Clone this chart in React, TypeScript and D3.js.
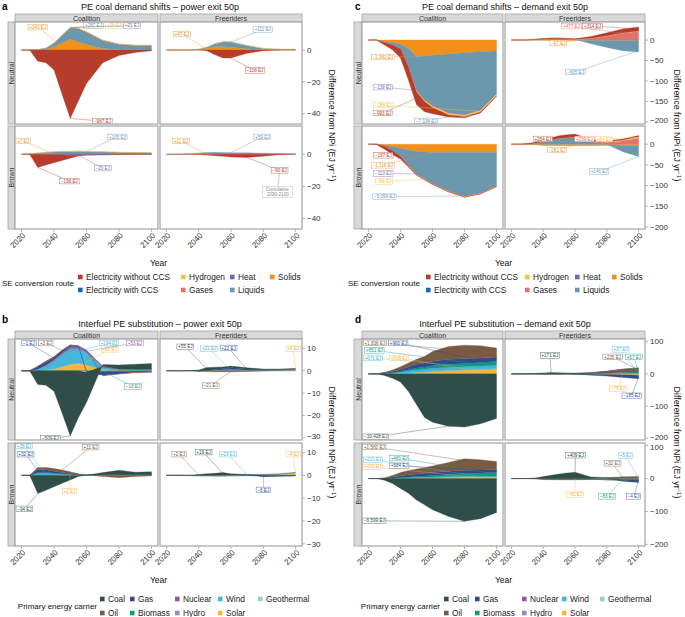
import React from "react";
import * as d3 from "d3";

const FONT = "'Liberation Sans', Arial, Helvetica, sans-serif";

const YEARS = [2020, 2025, 2030, 2035, 2040, 2045, 2050, 2055, 2060, 2070, 2080, 2090, 2100];
const X_TICKS = [2020, 2040, 2060, 2080, 2100];

const SE_KEYS = ["ElecNoCCS", "ElecCCS", "Hydrogen", "Gases", "Heat", "Liquids", "Solids"];
const SE_NAMES = ["Electricity without CCS", "Electricity with CCS", "Hydrogen", "Gases", "Heat", "Liquids", "Solids"];
const SE_COLORS = ["#b63c2c", "#2166ac", "#f6c445", "#e27272", "#7767ad", "#6b98ad", "#f39019"];

const PE_KEYS = ["Coal", "Oil", "Gas", "Biomass", "Nuclear", "Hydro", "Wind", "Solar", "Geothermal"];
const PE_NAMES = ["Coal", "Oil", "Gas", "Biomass", "Nuclear", "Hydro", "Wind", "Solar", "Geothermal"];
const PE_COLORS = ["#2f4e49", "#7b5a43", "#2e4b8e", "#0d9b82", "#8d5b99", "#8b90c6", "#47b6d8", "#f8b53e", "#93d4c1"];

const COLS = ["Coalition", "Freeriders"];
const ROWS = ["Neutral", "Brown"];

// ---------- Panel a: PE coal demand shifts – power exit 50p ----------
const A_NEU_COA: Record<string, number[]> = {
  ElecNoCCS: [0, 0, -7, -8, -12.5, -28, -43, -32, -21, -8, -3.5, -1.5, -0.5],
  Solids: [0, 0, 0, 0.2, 2, 4.5, 6.7, 5, 3.5, 1, 0.3, 0.1, 0],
  Liquids: [0, 0, 0.2, 0.8, 2.2, 4.5, 7, 8.2, 7.5, 4.8, 3.2, 2.7, 2.8],
  Hydrogen: [0, 0, 0, 0, 0.1, 0.2, 0.3, 0.35, 0.35, 0.3, 0.2, 0.15, 0.15],
  Heat: [0, 0, 0, 0.05, 0.1, 0.2, 0.3, 0.3, 0.3, 0.25, 0.15, 0.1, 0.1],
};
const A_NEU_FRE: Record<string, number[]> = {
  ElecNoCCS: [0, 0, 0, 0, 0, -0.5, -3, -5, -5, -2, -0.5, 0, 0],
  Solids: [0, 0, 0, 0, 0.3, 1, 2, 2.2, 1.8, 0.8, 0.2, 0, 0],
  Liquids: [0, 0, 0, 0, 0.2, 0.8, 2, 3, 3.3, 2, 0.8, 0.5, 0.4],
  Hydrogen: [0, 0, 0, 0, 0, 0.05, 0.1, 0.1, 0.1, 0.1, 0.05, 0, 0],
};
const A_BRO_COA: Record<string, number[]> = {
  ElecNoCCS: [0, 0, -8.2, -6.5, -5, -3.4, -1.9, -0.4, 0, 0, 0, 0, 0],
  Solids: [0, 0.3, 0.4, 0.3, 0.2, 0.1, 0, 0, 0, 0, 0, 0, 0],
  Liquids: [0, 0, 0.4, 0.9, 1.3, 1.6, 1.8, 1.9, 1.8, 1.5, 1.2, 1.1, 1.0],
  Heat: [0, 0, 0, -0.1, -0.3, -0.5, -0.6, -0.6, -0.5, -0.3, -0.1, 0, 0],
  Hydrogen: [0, 0, 0, 0.05, 0.1, 0.15, 0.15, 0.15, 0.1, 0.1, 0.05, 0, 0],
};
const A_BRO_FRE: Record<string, number[]> = {
  ElecNoCCS: [0, 0, 0, 0, -0.2, -0.5, -0.9, -1.3, -1.7, -2, -1.2, -0.3, 0],
  Solids: [0, 0, 0.1, 0.2, 0.3, 0.3, 0.2, 0.1, 0, 0, 0, 0, 0],
  Liquids: [0, 0, 0, 0.2, 0.5, 0.8, 1, 1, 1, 0.9, 0.7, 0.5, 0.4],
};

// ---------- Panel c: PE coal demand shifts – demand exit 50p ----------
const C_NEU_COA: Record<string, number[]> = {
  Solids: [0, 0, -4, -6.5, -10.6, -20, -40, -39, -37, -34, -31, -28.5, -27],
  Liquids: [0, 0, -1.5, -4.5, -10, -43, -82, -106, -122, -143, -150, -141.5, -103],
  Heat: [0, 0, -0.5, -1, -1.5, -2, -2, -2, -2, -2, -2, -2, -2],
  Hydrogen: [0, 0, 0, 0, 0, -1, -2, -3, -4, -4, -4, -4, -4],
  ElecNoCCS: [0, 0, -6, -12, -22, -32, -32, -25, -15, -5, -3, -2, -1],
};
const C_NEU_FRE: Record<string, number[]> = {
  ElecNoCCS: [0, 0, 0, 0.3, 0.8, 1, 1, 1, 1, 4, 7, 9.5, 10],
  Gases: [0, 0, 0, 0, 0, 0, 0, 0, 0.5, 4, 10, 17, 21],
  Liquids: [0, 0, 0.3, 1.5, 3, 4, 4, 3.5, 1.5, -8, -17, -25, -28],
  Solids: [0, 0, -0.3, -0.5, -0.7, -0.8, -0.8, -0.8, -0.8, -1, -1, -1, -1],
  Hydrogen: [0, 0, 0, 0, 0, 0, 0, 0, 0, 0.3, 0.5, 0.7, 0.8],
};
const C_BRO_COA: Record<string, number[]> = {
  Solids: [0, 0, -3, -6, -10, -14, -17, -19, -20, -20, -20, -20, -20],
  Liquids: [0, 0, -1.5, -9, -18, -35.5, -54, -64, -74, -92, -105, -97, -80],
  Heat: [0, 0, -0.5, -1, -1.5, -1.5, -1.5, -1.5, -1.5, -1.5, -1.5, -1.5, -1.5],
  Hydrogen: [0, 0, 0, 0, -0.5, -1, -1.2, -1.3, -1.3, -1.3, -1.3, -1.3, -1.3],
  ElecNoCCS: [0, -1, -7, -9, -6, -3, -1.5, -1, -0.5, -0.5, -0.3, -0.3, -0.3],
};
const C_BRO_FRE: Record<string, number[]> = {
  ElecNoCCS: [0, 0, 1, 2.5, 4, 5, 6, 6.5, 7, 4, 2, 2.5, 3],
  Liquids: [0, 0, 0.5, 2, 6, 10, 14, 16, 17, 6, 0, -15, -27],
  Gases: [0, 0, 0, 0, 0, 0, 0, 0, 0, 0, 5, 8, 15],
  Hydrogen: [0, 0, 0, 0.2, 0.3, 0.4, 0.5, 0.5, 0.5, 0.5, 1, 2, 3],
  Solids: [0, 0, -1, -2, -3, -3.5, -4, -4, -4, -3.5, -3, -3, -3],
};

// ---------- Panel b: Interfuel PE substitution – power exit 50p ----------
const B_NEU_COA: Record<string, number[]> = {
  Coal: [0, 0, -6.2, -6.5, -9.2, -19, -29.2, -21, -13.5, 0.8, 1.8, 2.2, 2.5],
  Oil: [0, 0, 0.3, 0.5, 0.4, 0.3, 0.2, 0.1, 0, -0.2, -0.2, -0.2, -0.2],
  Gas: [0, 0, 1, 1.2, 1, 0.8, 0.5, 0.2, -0.5, -1.5, -1, -0.5, -0.3],
  Biomass: [0, 0, 0, 0, 0, 0, 0, 0, -0.2, -0.5, -0.3, -0.2, -0.2],
  Nuclear: [0, 0, 0, 0.3, 0.6, 0.8, 1, 1, 1, 0.5, 0.3, 0.2, 0.2],
  Hydro: [0, 0, 0, 0, 0.1, 0.1, 0.1, 0.1, 0.1, 0, 0, 0, 0],
  Wind: [0, 0, 0.8, 2, 3.5, 5.5, 7, 6.5, 5.5, 1, 0.3, 0.3, 0.3],
  Solar: [0, 0, 0, 0.3, 0.8, 1.8, 2.8, 3.3, 2.6, 0.5, 0.2, 0.2, 0.2],
};
const B_NEU_FRE: Record<string, number[]> = {
  Coal: [0, 0, 0, 0.1, 0.3, 1.2, 1, 0.8, 0.8, 0.5, 0.3, 0.3, 0.3],
  Gas: [0, 0, 0, 0, 0, 0.1, 0.3, 0.5, 0.8, 0.5, 0.3, 0.1, 0],
  Wind: [0, 0, 0, 0, 0, 0.1, 0.3, 0.4, 0.5, 0.3, 0.2, 0.2, 0.2],
  Solar: [0, 0, 0, 0, 0, 0, 0, 0, 0, 0, 0, 0.2, 0.5],
  Oil: [0, 0, 0, 0, -0.3, -0.4, -0.5, -0.5, -0.5, -0.3, -0.1, 0, 0],
};
const B_BRO_COA: Record<string, number[]> = {
  Coal: [0, 0, -8, -6.5, -5, -3.4, -1.9, -0.4, 0, 0.8, 1.8, 1, 1.2],
  Oil: [0, 0, 0.8, 1, 1.2, 1.2, 0.8, 0.3, 0, -0.5, -1, -0.5, -0.3],
  Gas: [0, 0, 1.5, 1.3, 0.8, 0.5, 0.3, 0.1, 0, 0, 0, 0, 0],
  Biomass: [0, 0, 0.2, 0.2, 0.2, 0.1, 0.1, 0, 0, 0, 0, 0, 0],
  Wind: [0, 0, 1, 1, 0.8, 0.6, 0.4, 0.3, 0.2, 0.3, 0.3, 0.3, 0.3],
  Solar: [0, 0, 0, 0, 0, -0.1, -0.1, -0.1, 0, 0.1, 0.1, 0.1, 0.1],
};
const B_BRO_FRE: Record<string, number[]> = {
  Coal: [0, 0, 0, 0.1, 0.3, 0.6, 0.8, 1, 0.5, 0, -0.3, -0.2, -0.2],
  Oil: [0, 0, 0, 0, 0.1, 0.1, 0.1, 0.1, 0, 0, 0, 0, 0],
  Wind: [0, 0, 0, 0, 0, 0, 0, 0.1, 0.2, 0.4, 0.4, 0.3, 0.3],
  Solar: [0, 0, 0, -0.1, -0.2, -0.2, -0.3, -0.3, -0.2, 0, 0, 0.3, 1],
  Gas: [0, 0, 0, 0, 0, 0, 0, 0, 0, -0.2, -0.3, -0.2, -0.1],
};

// ---------- Panel d: Interfuel PE substitution – demand exit 50p ----------
const D_NEU_COA: Record<string, number[]> = {
  Coal: [0, 0, -5, -14, -25, -55, -95, -135, -150, -162, -165, -155, -138],
  Oil: [0, 0, 2, 5, 8, 12, 15, 20, 30, 40, 42, 38, 28],
  Gas: [0, 0, 1, 3, 6, 9, 12, 13, 14, 15, 15, 14, 13],
  Biomass: [0, 0, 0.5, 1, 2, 4, 6, 7, 8, 10, 10, 11, 13],
  Wind: [0, 0, 1, 2, 4, 6, 8, 9, 10, 10, 10, 10, 10],
  Solar: [0, 0, 0.5, 1, 2, 3, 4, 5, 7, 10, 12, 14, 16],
};
const D_NEU_FRE: Record<string, number[]> = {
  Coal: [0, 0, 0.5, 1, 3, 4, 3.5, 3, 2.5, 2, 1.5, 1, 0.5],
  Oil: [0, 0, 0, -0.5, -1, -1.5, -1, -0.5, 0, 2, 5, 9, 12],
  Biomass: [0, 0, 0, 0, 0, 0, 0, 0, 0, 0, 1, 3, 4],
  Wind: [0, 0, 0, 0, 0, 0, 0, 0, 0, 0.5, 1, 2, 2],
  Gas: [0, 0, 0, 0, 0, 0, 0, 0, -1, -3, -5, -8, -11],
  Solar: [0, 0, 0, 0, 0, 0, 0, 0, 0, -1, -2, -3, -4],
};
const D_BRO_COA: Record<string, number[]> = {
  Coal: [0, 0, -5, -15, -30, -45, -65, -80, -95, -115, -130, -122, -103],
  Oil: [0, 0, 1, 5, 10, 13, 15, 17, 20, 27, 35, 31, 25],
  Gas: [0, 0, 1, 3, 5, 7, 8, 8.5, 9, 10, 10, 9, 8],
  Biomass: [0, 0, 0, 0.5, 1, 1.5, 2, 3, 4, 6, 8, 10, 12],
  Wind: [0, 0, 0, 1, 2, 2.5, 3, 3, 3, 3, 3, 3, 3],
  Solar: [0, 0, 0, 0, 0.5, 0.8, 1, 1.5, 2, 3, 4, 4, 4],
};
const D_BRO_FRE: Record<string, number[]> = {
  Coal: [0, 0, 0.5, 2, 6, 10, 14, 17, 19, 5, 0, -2, -3],
  Oil: [0, 0, 0, -1, -2, -2.5, -3, -3, -3, -1, 3, 5, 6],
  Biomass: [0, 0, 0, 0, 0, 0, 0, 0, 0, -1, -3, -4, -3],
  Solar: [0, 0, 0, 0, -1, -1, -1, -1, -1, -1, -1, -1, -1],
  Gas: [0, 0, 0, 0, 0, 0, 0, 0, 0, 0, 0, -1, -5],
  Wind: [0, 0, 0, 0, 0, 0, 0, 0, 0, 0, 0, 0.2, 0.5],
};

// Labels: [text, series, labelYear, labelValue, anchorYear, anchorFraction]
type Lab = [string, string, number, number, number, number];
const A_LABELS: Lab[][][] = [
  [
    [["+143 EJ", "Solids", 2030, 14.4, 2045, 0.5], ["+287 EJ", "Liquids", 2064.3, 15.3, 2050, 1], ["+26 EJ", "Hydrogen", 2077, 15.3, 2050, 1], ["+21 EJ", "Heat", 2088, 15.3, 2050, 1], ["−987 EJ", "ElecNoCCS", 2069.8, -44.7, 2050, 1]],
    [["+47 EJ", "Solids", 2029.5, 10, 2045, 0.5], ["+111 EJ", "Liquids", 2079.7, 12.8, 2060, 1], ["−108 EJ", "ElecNoCCS", 2074.8, -12.8, 2055, 0.5]],
  ],
  [
    [["+7 EJ", "Solids", 2021, 8.3, 2040, 0.5], ["+105 EJ", "Liquids", 2079, 10.8, 2060, 1], ["−196 EJ", "ElecNoCCS", 2049.5, -16.7, 2030, 1], ["−20 EJ", "Heat", 2070, -8.6, 2055, 1]],
    [["+11 EJ", "Solids", 2029, 8.3, 2045, 0.5], ["+59 EJ", "Liquids", 2079.4, 10.8, 2060, 1], ["−90 EJ", "ElecNoCCS", 2090.1, -10, 2070, 1]],
  ],
];
const C_LABELS: Lab[][][] = [
  [
    [["−1,981 EJ", "Solids", 2029, -41.5, 2050, 1], ["−139 EJ", "Heat", 2029, -115, 2050, 0.5], ["−288 EJ", "Hydrogen", 2029.3, -158.5, 2090, 0.5], ["−993 EJ", "ElecNoCCS", 2029, -178, 2050, 0.5], ["−7,034 EJ", "Liquids", 2056, -197.6, 2080, 1]],
    [["+477 EJ", "Gases", 2057.8, 34, 2100, 0.5], ["+314 EJ", "ElecNoCCS", 2071, 34, 2100, 0.5], ["−67 EJ", "Solids", 2049.5, -7.3, 2060, 0.5], ["−605 EJ", "Liquids", 2060.3, -78, 2100, 0.9]],
  ],
  [
    [["−197 EJ", "ElecNoCCS", 2029.3, -26.8, 2035, 0.5], ["−1,116 EJ", "Solids", 2029, -51, 2070, 0.5], ["−110 EJ", "Heat", 2029.3, -70.7, 2050, 0.5], ["−89 EJ", "Hydrogen", 2029.6, -90, 2055, 0.5], ["−5,099 EJ", "Liquids", 2030, -127, 2080, 1]],
    [["+284 EJ", "ElecNoCCS", 2039.8, 12.7, 2055, 0.5], ["+159 EJ", "Gases", 2065.9, 12.7, 2100, 0.5], ["+64 EJ", "Hydrogen", 2078.3, 12.7, 2100, 0.5], ["−261 EJ", "Solids", 2048.8, -14, 2060, 0.5], ["+140 EJ", "Liquids", 2075.2, -66, 2100, 1]],
  ],
];
const B_LABELS: Lab[][][] = [
  [
    [["−1 EJ", "Gas", 2024.6, 12.4, 2040, 0.5], ["+3 EJ", "Oil", 2035, 12.4, 2045, 0.5], ["+194 EJ", "Wind", 2073.8, 12.4, 2050, 0.7], ["+60 EJ", "Solar", 2074.2, 9.6, 2055, 0.5], ["+53 EJ", "Nuclear", 2089.8, 12.4, 2060, 0.5], ["−13 EJ", "Biomass", 2088.6, -7.1, 2070, 0.5], ["−509 EJ", "Coal", 2037.8, -30.2, 2050, 1]],
    [["+55 EJ", "Coal", 2031.7, 10.7, 2045, 0.5], ["+21 EJ", "Wind", 2046.5, 9.8, 2060, 0.5], ["+22 EJ", "Gas", 2058.5, 10.2, 2070, 0.5], ["+5 EJ", "Solar", 2098.5, 9.8, 2100, 0.5], ["−21 EJ", "Oil", 2047.4, -6.7, 2060, 0.5]],
  ],
  [
    [["+38 EJ", "Wind", 2021.5, 12.9, 2035, 0.5], ["+32 EJ", "Gas", 2022.5, 9.3, 2030, 0.5], ["+11 EJ", "Oil", 2062.5, 12.4, 2045, 1], ["+2 EJ", "Solar", 2049.5, -6.9, 2050, 0.5], ["−94 EJ", "Coal", 2021.8, -14.7, 2030, 1]],
    [["+2 EJ", "Oil", 2027.8, 9.3, 2040, 0.5], ["+19 EJ", "Coal", 2043, 10.2, 2055, 0.5], ["+23 EJ", "Wind", 2058, 9.3, 2070, 0.5], ["−4 EJ", "Solar", 2098.5, 9.3, 2100, 0.5], ["−6 EJ", "Gas", 2080, -6.4, 2080, 0.5]],
  ],
];
const D_LABELS: Lab[][][] = [
  [
    [["+1,836 EJ", "Oil", 2024, 96, 2090, 0.5], ["+960 EJ", "Gas", 2038.6, 96, 2090, 0.5], ["+651 EJ", "Biomass", 2023.7, 72.8, 2090, 0.5], ["+671 EJ", "Wind", 2022.8, 49.5, 2090, 0.5], ["+565 EJ", "Solar", 2039.2, 49.5, 2090, 0.5], ["−10,428 EJ", "Coal", 2024.6, -195, 2070, 1]],
    [["+171 EJ", "Coal", 2044.2, 57, 2045, 0.5], ["+37 EJ", "Wind", 2088.6, 76, 2100, 0.5], ["+235 EJ", "Oil", 2083.6, 52.6, 2100, 0.5], ["+67 EJ", "Biomass", 2097, 52.6, 2100, 0.5], ["−75 EJ", "Solar", 2087, -46.4, 2090, 0.5], ["−185 EJ", "Gas", 2095.6, -68, 2100, 0.5]],
  ],
  [
    [["+1,560 EJ", "Oil", 2023.7, 96, 2100, 0.5], ["+221 EJ", "Wind", 2022.8, 57, 2090, 0.5], ["+481 EJ", "Biomass", 2039.2, 62, 2100, 0.5], ["+684 EJ", "Gas", 2039.2, 38.7, 2100, 0.5], ["+193 EJ", "Solar", 2022.8, 35.6, 2090, 0.5], ["−6,599 EJ", "Coal", 2023.7, -128.5, 2080, 1]],
    [["+409 EJ", "Coal", 2060.3, 71, 2060, 0.9], ["+32 EJ", "Oil", 2083.6, 46.4, 2090, 0.5], ["+5 EJ", "Wind", 2091.7, 69.6, 2100, 0.5], ["−61 EJ", "Solar", 2060, -49.5, 2060, 0.5], ["−83 EJ", "Biomass", 2080.1, -54.2, 2090, 0.5], ["−4 EJ", "Gas", 2096.8, -54.2, 2100, 0.5]],
  ],
];

const A_DOMAIN = [-46.5, 17.6];
const A_TICKS = [0, -20, -40];
const C_DOMAIN = [-205, 44];
const C_TICKS = [0, -50, -100, -150, -200];
const B_DOMAIN = [-31, 14.2];
const B_TICKS = [10, 0, -10, -20, -30];
const D_DOMAIN = [-205, 108];
const D_TICKS = [100, 0, -100, -200];

// layout
const COL_L = { panels: [[15, 158], [160, 302]], strip: [8, 15], tickX: 302, yTitleX: 328.5, letterX: 2, titleX: 160 };
const COL_R = { panels: [[362, 503], [505, 645]], strip: [354, 362], tickX: 645, yTitleX: 673.5, letterX: 355, titleX: 505 };
const ROW_T = { strip: [14, 22], rows: [[22, 124], [126, 229]], titleY: 10, letterY: 9.5, yearY: 266, legendY: [277, 290], legendTitleY: 286 };
const ROW_B = { strip: [331, 339], rows: [[339, 440], [443, 546]], titleY: 327, letterY: 323, yearY: 583, legendY: [599, 613], legendTitleY: 609 };

const PANELS = [
  { id: "a", title: "PE coal demand shifts – power exit 50p", col: COL_L, row: ROW_T, keys: SE_KEYS, names: SE_NAMES, colors: SE_COLORS, domain: A_DOMAIN, ticks: A_TICKS, facets: [[A_NEU_COA, A_NEU_FRE], [A_BRO_COA, A_BRO_FRE]], labels: A_LABELS, legendTitle: "SE conversion route", legendX: [78, 181, 230, 270], legendTitleX: 74 },
  { id: "c", title: "PE coal demand shifts – demand exit 50p", col: COL_R, row: ROW_T, keys: SE_KEYS, names: SE_NAMES, colors: SE_COLORS, domain: C_DOMAIN, ticks: C_TICKS, facets: [[C_NEU_COA, C_NEU_FRE], [C_BRO_COA, C_BRO_FRE]], labels: C_LABELS, legendTitle: "SE conversion route", legendX: [426, 525, 575, 612], legendTitleX: 420 },
  { id: "b", title: "Interfuel PE substitution – power exit 50p", col: COL_L, row: ROW_B, keys: PE_KEYS, names: PE_NAMES, colors: PE_COLORS, domain: B_DOMAIN, ticks: B_TICKS, facets: [[B_NEU_COA, B_NEU_FRE], [B_BRO_COA, B_BRO_FRE]], labels: B_LABELS, legendTitle: "Primary energy carrier", legendX: [100, 130, 175, 218, 258], legendTitleX: 97 },
  { id: "d", title: "Interfuel PE substitution – demand exit 50p", col: COL_R, row: ROW_B, keys: PE_KEYS, names: PE_NAMES, colors: PE_COLORS, domain: D_DOMAIN, ticks: D_TICKS, facets: [[D_NEU_COA, D_NEU_FRE], [D_BRO_COA, D_BRO_FRE]], labels: D_LABELS, legendTitle: "Primary energy carrier", legendX: [444, 475, 522, 562, 600], legendTitleX: 440 },
];

const CW: Record<string, number> = { "+": 0.584, "−": 0.584, "-": 0.333, E: 0.667, J: 0.5, " ": 0.278, ",": 0.278 };
function textW(s: string, fs: number) {
  let w = 0;
  for (const c of s) w += CW[c] ?? 0.556;
  return w * fs;
}

function nearestSign(arr: number[], j: number) {
  for (let k = 1; k < arr.length; k++) {
    if (j - k >= 0 && arr[j - k] !== 0) return Math.sign(arr[j - k]);
    if (j + k < arr.length && arr[j + k] !== 0) return Math.sign(arr[j + k]);
  }
  return 1;
}

// diverging stack: returns per key array of [inner, outer]
function stackDiverging(data: Record<string, number[]>, keys: string[]) {
  const out: Record<string, [number, number][]> = {};
  keys.forEach((k) => (out[k] = []));
  YEARS.forEach((_, j) => {
    let yp = 0;
    let yn = 0;
    keys.forEach((k) => {
      const arr = data[k] || YEARS.map(() => 0);
      const v = arr[j];
      if (v > 0) {
        out[k].push([yp, yp + v]);
        yp += v;
      } else if (v < 0) {
        out[k].push([yn, yn + v]);
        yn += v;
      } else {
        const e = nearestSign(arr, j) < 0 ? yn : yp;
        out[k].push([e, e]);
      }
    });
  });
  return out;
}

const GRAY = "#a3a3a3";
const TXT = "#333333";

function renderPanel(p: (typeof PANELS)[number]) {
  const els: React.ReactNode[] = [];
  const colorOf = (k: string) => p.colors[p.keys.indexOf(k)];
  const stackKeys = [...p.keys].reverse();
  const { col, row } = p;

  els.push(
    <text key="letter" x={col.letterX} y={row.letterY} fontSize={10} fontWeight="bold" fill="#000">{p.id}</text>,
    <text key="title" x={col.titleX} y={row.titleY} fontSize={9} textAnchor="middle" fill="#111">{p.title}</text>
  );

  col.panels.forEach(([x0, x1], ci) => {
    els.push(
      <g key={"cs" + ci}>
        <rect x={x0} y={row.strip[0]} width={x1 - x0} height={row.strip[1] - row.strip[0]} fill="#d9d9d9" stroke={GRAY} strokeWidth={0.8} />
        <text x={(x0 + x1) / 2} y={(row.strip[0] + row.strip[1]) / 2 + 2.5} fontSize={7} textAnchor="middle" fill={TXT}>{COLS[ci]}</text>
      </g>
    );
  });

  row.rows.forEach(([y0, y1], ri) => {
    els.push(
      <g key={"rs" + ri}>
        <rect x={col.strip[0]} y={y0} width={col.strip[1] - col.strip[0]} height={y1 - y0} fill="#d9d9d9" stroke={GRAY} strokeWidth={0.8} />
        <text transform={`translate(${(col.strip[0] + col.strip[1]) / 2 + 2.5},${(y0 + y1) / 2}) rotate(-90)`} fontSize={7} textAnchor="middle" fill={TXT}>{ROWS[ri]}</text>
      </g>
    );
    const y = d3.scaleLinear().domain(p.domain).range([y1, y0]);

    col.panels.forEach(([x0, x1], ci) => {
      const x = d3.scaleLinear().domain([2016, 2104]).range([x0, x1]);
      const data = p.facets[ri][ci];
      const st = stackDiverging(data, stackKeys);
      const clipId = `clip-${p.id}-${ri}-${ci}`;
      const area = d3
        .area<[number, number]>()
        .x((_, i) => x(YEARS[i]))
        .y0((d) => y(d[0]))
        .y1((d) => y(d[1]));
      const areas = stackKeys
        .filter((k) => data[k] && data[k].some((v) => v !== 0))
        .map((k) => <path key={k} d={area(st[k]) || ""} fill={colorOf(k)} stroke={colorOf(k)} strokeWidth={0.3} />);

      const labs = p.labels[ri][ci].map(([t, k, lx, ly, ax, af], li) => {
        const idx = YEARS.indexOf(ax);
        const pt = st[k][idx];
        const av = pt[0] + af * (pt[1] - pt[0]);
        const c = colorOf(k);
        const fs = 4.6;
        const w = textW(t, fs) + 2.4;
        const h = 5.6;
        const cx = x(lx);
        const cy = y(ly);
        return (
          <g key={"l" + li}>
            <line x1={cx} y1={cy} x2={x(ax)} y2={y(av)} stroke={c} strokeWidth={0.45} opacity={0.85} />
            <rect x={cx - w / 2} y={cy - h / 2} width={w} height={h} fill="#fff" stroke={c} strokeWidth={0.4} opacity={0.95} />
            <text x={cx} y={cy + 1.65} fontSize={fs} textAnchor="middle" fill={c}>{t}</text>
          </g>
        );
      });

      let note: React.ReactNode = null;
      if (p.id === "a" && ri === 1 && ci === 1) {
        const nx = x(2089);
        const ny = y(-23.6);
        note = (
          <g>
            <line x1={x(2090.1)} y1={y(-10) + 2.8} x2={nx} y2={ny - 5.5} stroke="#999" strokeWidth={0.5} />
            <rect x={nx - 15} y={ny - 5.5} width={30} height={11} fill="#fff" stroke="#aaa" strokeWidth={0.4} />
            <text x={nx} y={ny - 0.8} fontSize={4.6} textAnchor="middle" fill="#888">Cumulative,</text>
            <text x={nx} y={ny + 4} fontSize={4.6} textAnchor="middle" fill="#888">2020-2100</text>
          </g>
        );
      }

      els.push(
        <g key={`f${ri}${ci}`}>
          <defs>
            <clipPath id={clipId}>
              <rect x={x0} y={y0} width={x1 - x0} height={y1 - y0} />
            </clipPath>
          </defs>
          <rect x={x0} y={y0} width={x1 - x0} height={y1 - y0} fill="#fff" />
          <g clipPath={`url(#${clipId})`}>
            {areas}
            {labs}
            {note}
          </g>
          <rect x={x0} y={y0} width={x1 - x0} height={y1 - y0} fill="none" stroke={GRAY} strokeWidth={1.2} />
        </g>
      );

      if (ri === 1) {
        X_TICKS.forEach((t) => {
          els.push(
            <g key={`xt${ci}-${t}`}>
              <line x1={x(t)} x2={x(t)} y1={y1} y2={y1 + 3} stroke={GRAY} strokeWidth={0.8} />
              <text transform={`translate(${x(t) + 4.5},${y1 + 7}) rotate(-45)`} fontSize={8} textAnchor="end" fill={TXT}>{t}</text>
            </g>
          );
        });
      }
    });

    p.ticks.forEach((t) => {
      let dy = 0;
      const yy = y(t);
      if (ri === 1 && yy - y0 < 4) dy = 2;
      if (ri === 0 && y1 - yy < 4) dy = -1.5;
      els.push(
        <g key={`yt${ri}-${t}`}>
          <line x1={col.tickX} x2={col.tickX + 3} y1={yy} y2={yy} stroke={GRAY} strokeWidth={0.8} />
          <text x={col.tickX + 5} y={yy + 2.8 + dy} fontSize={8} fill={TXT}>{t < 0 ? "−" + Math.abs(t) : String(t)}</text>
        </g>
      );
    });
  });

  const cy = (row.rows[0][0] + row.rows[1][1]) / 2;
  els.push(
    <text key="ytitle" transform={`translate(${col.yTitleX},${cy}) rotate(90)`} fontSize={8.8} textAnchor="middle" fill="#111">
      Difference from NPi (EJ yr
      <tspan fontSize={6} dy={-3}>−1</tspan>
      <tspan dy={3}>)</tspan>
    </text>
  );
  els.push(
    <text key="xtitle" x={(col.panels[0][0] + col.panels[1][1]) / 2} y={row.yearY} fontSize={8.5} textAnchor="middle" fill="#111">Year</text>
  );
  els.push(
    <text key="lt" x={p.legendTitleX} y={row.legendTitleY} fontSize={8} textAnchor="end" fill="#111">{p.legendTitle}</text>
  );
  p.keys.forEach((k, i) => {
    const c = Math.floor(i / 2);
    const r = i % 2;
    const lx = p.legendX[c];
    const ly = row.legendY[r];
    els.push(
      <g key={"lg" + k}>
        <rect x={lx} y={ly - 2.3} width={4.6} height={4.6} fill={p.colors[i]} />
        <text x={lx + 8} y={ly + 3} fontSize={8.3} fill="#222">{p.names[i]}</text>
      </g>
    );
  });

  return <g key={p.id}>{els}</g>;
}

export default function App() {
  return (
    <svg
      width={685}
      height={617}
      viewBox="0 0 685 617"
      style={{ position: "absolute", left: 0, top: 0, background: "#fff", fontFamily: FONT }}
    >
      <rect x={0} y={0} width={685} height={617} fill="#fff" />
      {PANELS.map((p) => renderPanel(p))}
    </svg>
  );
}
